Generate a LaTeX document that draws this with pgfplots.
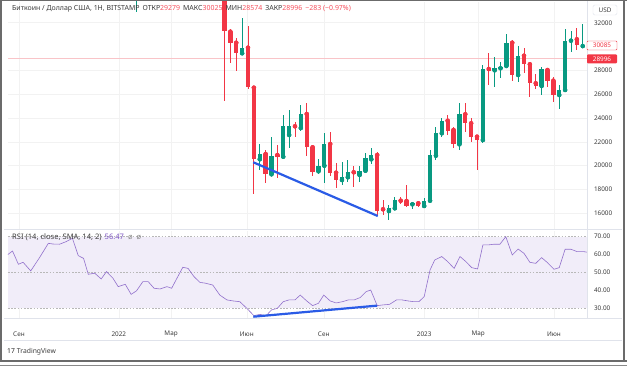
\documentclass[border=0pt]{standalone}
\usepackage{pgfplots}
\pgfplotsset{compat=1.18}
\usepackage{pgfplotstable}
\usepackage{fontspec}
\setmainfont{Noto Sans}
\definecolor{up}{HTML}{089981}
\definecolor{dn}{HTML}{F23645}
\definecolor{dnl}{HTML}{F7525F}
\definecolor{pinkline}{HTML}{F9C4C8}
\definecolor{rsi}{HTML}{7E57C2}
\definecolor{band}{HTML}{F1EDF9}
\definecolor{txt}{HTML}{3C3C3C}
\definecolor{sep}{HTML}{E0E3EB}
\definecolor{trend}{HTML}{2A5BE6}
\definecolor{frame}{HTML}{6B6B6B}

\pgfplotstableread{
k o h l c
-15 36300 38900 32900 38150
3 29434 32372 29291 29904
6 20534 21819 19636 20979
8 19275 22432 19132 20836
10 20752 24254 20727 23355
11 22575 24673 21483 23330
13 23162 25093 22910 24338
16 19527 20534 19300 19997
17 19997 22742 18570 21819
20 18797 20333 18376 19073
21 19023 20476 18654 19443
23 19217 19997 18654 19577
24 19577 21089 19359 20618
25 20534 21508 20140 20895
28 16194 16697 15438 16420
29 16420 17369 16277 17117
32 16756 16974 16336 16840
34 16613 17259 16554 17058
35 17058 21315 17033 20895
36 20836 23271 20476 22717
37 22717 24027 22381 23775
40 21794 25236 21315 24313
44 22154 28452 21903 28091
46 28007 29148 26579 28175
47 28175 28729 27335 28309
48 28368 31029 28284 30324
50 27612 30047 27050 29232
54 26688 28284 25933 28116
57 25933 26772 24732 26353
58 26353 31449 26269 30492
59 30492 31306 29568 30609
61 30040 31869 29988 30085
}\upcandles

\pgfplotstableread{
k o h l c
0 34060 34240 25429 31306
1 31247 31474 28645 30274
2 30324 30719 27973 29484
4 29904 31726 26437 26579
5 26546 26688 17596 20534
7 20979 21315 18570 19275
9 20895 21735 18964 20752
12 23305 23691 22432 23162
14 24338 25236 20811 21567
15 21542 21735 19132 19493
18 21819 22801 19130 19409
19 19409 20198 18100 18797
22 19443 19997 18183 19300
26 20895 21147 15748 16219
27 16336 17117 15858 16194
30 17058 17394 16781 16924
31 17033 18377 16529 16638
33 16840 16950 16504 16613
38 23775 24254 22575 22935
39 22994 23271 21458 21794
41 24313 25236 22852 23557
42 23557 23977 22012 22381
43 22432 22575 19636 22154
45 28116 29434 26772 27973
49 30324 30551 27108 27612
51 29232 29854 27755 28510
52 28510 28620 25790 26966
53 26915 27696 26411 26688
55 28032 28225 26579 27133
56 27133 27469 25370 25933
60 30609 31533 29711 30131
}\dncandles

\pgfplotsset{
  tvaxis/.style={
    scale only axis, width=579bp,
    xmin=-36.87, xmax=61.73,
    axis line style={draw=none},
    major tick length=0pt,
    scaled y ticks=false, scaled x ticks=false,
    xtick={-35.0,-18.0,-9.1,3.8,16.9,34.0,43.2,56.1},
    grid=major, grid style={color=black!5, line width=0.5bp},
    yticklabel pos=right,
    tick label style={font=\fontsize{6.4}{7}\selectfont, text=txt},
    yticklabel style={anchor=west, xshift=3.5bp},
  },
}

\begin{document}
\begin{tikzpicture}[x=1bp,y=1bp]
\path[fill=white] (0,0) rectangle (627,369);
\begin{scope}
\clip (0,0) rectangle (627,369);

% price pane
\begin{axis}[tvaxis, at={(8bp,140bp)}, anchor=south west, height=227bp,
  ymin=14682, ymax=33741,
  xticklabels={},
  ytick={16000,18000,20000,22000,24000,26000,28000,32000},
  yticklabels={16000,18000,20000,22000,24000,26000,28000,32000},
]
\addplot[draw=pinkline, line width=0.6bp] coordinates {(-36.87,28996) (61.73,28996)};
% wicks
\addplot[up, only marks, mark=none, error bars/.cd, y dir=both, y explicit, error mark=none,
  error bar style={line width=0.9bp, up}]
  table[x=k, y=o, y error plus expr=\thisrow{h}-\thisrow{o}, y error minus expr=\thisrow{o}-\thisrow{l}] {\upcandles};
\addplot[dn, only marks, mark=none, error bars/.cd, y dir=both, y explicit, error mark=none,
  error bar style={line width=0.9bp, dn}]
  table[x=k, y=o, y error plus expr=\thisrow{h}-\thisrow{o}, y error minus expr=\thisrow{o}-\thisrow{l}] {\dncandles};
% bodies
\addplot[up, only marks, mark=none, error bars/.cd, y dir=plus, y explicit, error mark=none,
  error bar style={line width=4.3bp, up}]
  table[x=k, y=o, y error plus expr=\thisrow{c}-\thisrow{o}, y error minus expr=0] {\upcandles};
\addplot[dn, only marks, mark=none, error bars/.cd, y dir=minus, y explicit, error mark=none,
  error bar style={line width=4.3bp, dn}]
  table[x=k, y=o, y error plus expr=0, y error minus expr=\thisrow{o}-\thisrow{c}] {\dncandles};
% trend line
\addplot[trend, line width=2.2bp] coordinates {(4.9,20282) (26.1,15773)};
\end{axis}

% RSI pane
\begin{axis}[tvaxis, at={(8bp,51bp)}, anchor=south west, height=87bp,
  ymin=24.58, ymax=73.18,
  ytick={30,40,50,60,70},
  yticklabels={30.00,40.00,50.00,60.00,70.00},
  ymajorgrids=false,
  xticklabels={Сен,\textbf{2022},Мар,Июн,Сен,\textbf{2023},Мар,Июн},
  xticklabel style={anchor=center, yshift=-16bp},
]
\fill[band] (axis cs:-36.87,30) rectangle (axis cs:61.73,70);
\draw[color=black!28, line width=0.5bp, dash pattern=on 1.6bp off 1.6bp] (axis cs:-36.87,70) -- (axis cs:61.73,70);
\draw[color=black!28, line width=0.5bp, dash pattern=on 1.6bp off 1.6bp] (axis cs:-36.87,50) -- (axis cs:61.73,50);
\draw[color=black!28, line width=0.5bp, dash pattern=on 1.6bp off 1.6bp] (axis cs:-36.87,30) -- (axis cs:61.73,30);
\addplot[rsi!85, line width=0.6bp] coordinates {
(-37.0,59.8) (-36.1,62.0) (-35.1,54.6) (-34.3,55.7) (-33.0,50.9) (-31.5,58.3) (-30.0,66.3)
(-29.2,65.9) (-28.1,65.8) (-27.0,67.2) (-25.9,69.1) (-24.9,59.4) (-24.0,57.9) (-23.2,49.0)
(-22.1,49.6) (-21.0,46.4) (-20.1,50.5) (-19.0,46.8) (-18.1,42.1) (-16.9,43.4) (-15.9,37.8)
(-15.0,39.7) (-13.9,44.9) (-13.0,44.9) (-12.0,41.2) (-11.0,40.8) (-9.8,42.1) (-9.0,41.2)
(-8.1,46.8) (-7.1,52.9) (-6.2,52.3) (-5.2,47.7) (-4.2,44.5) (-3.2,44.0) (-2.0,43.0)
(-0.8,37.4) (0.4,34.7) (1.5,34.1) (2.6,33.7) (3.8,30.0) (5.0,25.9) (6.0,26.6) (7.1,25.9)
(8.0,29.1) (9.0,30.0) (10.0,33.7) (11.0,34.7) (12.0,34.7) (12.9,37.4) (14.0,34.1) (15.0,31.5)
(16.0,32.8) (16.9,37.4) (18.0,34.1) (19.0,33.0) (20.1,33.7) (21.1,34.7) (22.1,34.7) (23.1,36.0)
(24.1,39.3) (24.9,40.2) (26.0,31.5) (27.0,31.9) (28.1,32.2) (29.3,34.7) (30.2,34.7) (31.3,34.1)
(32.2,33.7) (33.1,33.7) (34.0,36.5) (35.0,51.4) (35.8,57.0) (37.0,58.9) (38.0,56.1) (39.1,52.3)
(40.1,58.9) (41.1,56.1) (42.1,52.7) (43.1,52.0) (44.0,65.4) (44.9,65.4) (45.9,65.8) (46.9,65.8)
(47.9,70.0) (49.0,59.8) (50.0,63.1) (51.0,60.7) (52.0,55.7) (53.0,55.1) (54.0,58.3) (55.0,55.5)
(56.1,51.8) (57.0,52.7) (58.0,63.0) (59.0,63.0) (60.0,61.7) (61.1,61.7) (61.8,61.3)};
\addplot[trend, line width=2.2bp] coordinates {(4.9,25.3) (26.0,31.5)};
\end{axis}

% separators
\draw[sep, line width=0.6bp] (4,139.5) -- (622,139.5);
\draw[sep, line width=0.6bp] (4,50.5) -- (622,50.5);
\draw[sep, line width=0.6bp] (4,29) -- (622,29);
\draw[sep, line width=0.6bp] (587.5,50.5) -- (587.5,368);

% header texts
\node[anchor=west, inner sep=0, font=\fontsize{7.0}{8}\selectfont, text=txt] at (12,360)
 {Биткоин / Доллар США, 1Н, BITSTAMP\hspace{3bp}ОТКР\textcolor{dnl}{29279}\hspace{3bp}МАКС\textcolor{dnl}{30025}\hspace{3bp}МИН\textcolor{dnl}{28574}\hspace{3bp}ЗАКР\textcolor{dnl}{28996}\hspace{3bp}\textcolor{dnl}{−283 (−0.97\%)}};
\node[anchor=west, inner sep=0, font=\fontsize{7.6}{8}\selectfont, text=txt] at (12,132)
 {RSI (14, close, SMA, 14, 2)\hspace{3bp}\textcolor{rsi}{56.47}\hspace{4bp}\textcolor{black!45}{ø\hspace{4bp}ø}};

% price scale labels
\node[draw=sep, rounded corners=1.5bp, minimum width=24bp, minimum height=10bp, inner sep=0, font=\fontsize{6.4}{7}\selectfont, text=txt] at (605,359) {USD};
\node[draw=dn, fill=white, rounded corners=1bp, minimum width=30bp, minimum height=9bp, inner sep=0, font=\fontsize{6.4}{7}\selectfont, text=dn] at (602,323.5) {30085};
\node[fill=dn, rounded corners=1bp, minimum width=30bp, minimum height=9bp, inner sep=0, font=\fontsize{6.4}{7}\selectfont, text=white] at (602,310.2) {28996};

% logo
\node[anchor=west, inner sep=0, font=\fontsize{6.8}{8}\selectfont, text=txt] at (7,17.5) {{\bfseries\color{black!85}17}\hspace{2bp}TradingView};

% frame
\draw[frame, line width=2.2bp] (1.1,8) -- (1.1,369);
\draw[frame, line width=1.5bp] (0,368.3) -- (627,368.3);
\draw[frame, line width=2.2bp] (624,8) -- (624,369);
\draw[frame, line width=1.4bp] (0,8) -- (627,8);
\draw[frame!80, line width=1bp] (0,4) -- (627,4);
\end{scope}
\useasboundingbox (0,0) rectangle (627,369);
\end{tikzpicture}
\end{document}
